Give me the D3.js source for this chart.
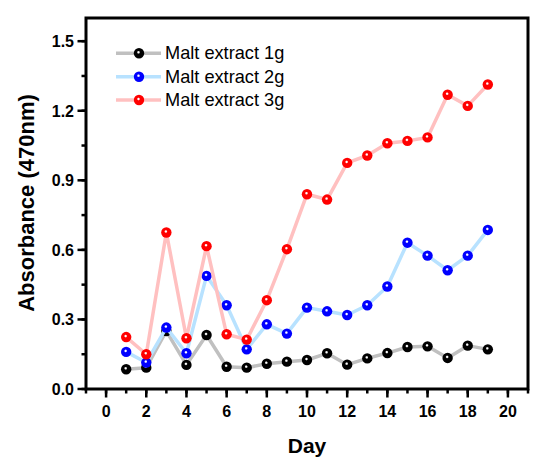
<!DOCTYPE html>
<html><head><meta charset="utf-8">
<script src="https://cdn.jsdelivr.net/npm/d3@7"></script>
<style>body{margin:0;background:#fff}svg{display:block}</style>
</head><body>
<svg id="c" width="559" height="471"></svg>
<script>
const days = [1,2,3,4,5,6,7,8,9,10,11,12,13,14,15,16,17,18,19];
const malt1g = [0.085,0.092,0.25,0.104,0.233,0.096,0.092,0.109,0.118,0.125,0.154,0.105,0.132,0.155,0.181,0.184,0.134,0.187,0.171];
const malt2g = [0.16,0.114,0.265,0.154,0.488,0.361,0.171,0.279,0.239,0.351,0.335,0.319,0.361,0.442,0.631,0.575,0.512,0.575,0.686];
const malt3g = [0.224,0.15,0.675,0.219,0.616,0.236,0.213,0.383,0.603,0.840,0.817,0.975,1.007,1.060,1.070,1.085,1.269,1.221,1.313];
const seriesNames = ["Malt extract 1g","Malt extract 2g","Malt extract 3g"];
const lineColors = ["#c0c0c0","#b8e2ff","#ffc0c0"];
const dotColors = ["#000000","#0000ff","#ff0000"];
const xTicks = [0,2,4,6,8,10,12,14,16,18,20];
const yTicks = [0.0,0.3,0.6,0.9,1.2,1.5];

const svg = d3.select("#c");
const x = d3.scaleLinear().domain([-1,21]).range([86,528]);
const y = d3.scaleLinear().domain([0,1.6]).range([389,18]);
const font = "'Liberation Sans', Arial, sans-serif";

// gradients for glossy markers
const defs = svg.append("defs");
dotColors.forEach((c,i)=>{
  const g = defs.append("radialGradient").attr("id","g"+i).attr("cx","0.45").attr("cy","0.42").attr("r","0.6").attr("fx","0.45").attr("fy","0.4");
  g.append("stop").attr("offset","0").attr("stop-color","#ffffff");
  g.append("stop").attr("offset","0.1").attr("stop-color","#ffffff");
  g.append("stop").attr("offset","0.28").attr("stop-color",c);
  g.append("stop").attr("offset","1").attr("stop-color",c);
});

// series
const all = [malt1g,malt2g,malt3g];
const line = d3.line().x((d,i)=>x(days[i])).y(d=>y(d));
all.forEach((vals,k)=>{
  const g = svg.append("g");
  g.append("path").attr("d",line(vals)).attr("fill","none").attr("stroke",lineColors[k]).attr("stroke-width",3.5).attr("stroke-linejoin","round");
  g.selectAll("circle").data(vals).join("circle")
    .attr("cx",(d,i)=>x(days[i])).attr("cy",d=>y(d)).attr("r",5.2)
    .attr("fill","url(#g"+k+")");
});

// frame
svg.append("rect").attr("x",86).attr("y",18).attr("width",442).attr("height",371)
  .attr("fill","none").attr("stroke","#000").attr("stroke-width",3);

// x axis
const xMinor = d3.range(-1,22,1);
const xa = svg.append("g").attr("transform","translate(0,389)");
xa.selectAll("line.mi").data(xMinor).join("line").attr("x1",d=>x(d)).attr("x2",d=>x(d)).attr("y1",0).attr("y2",4.5).attr("stroke","#000").attr("stroke-width",2.5);
xa.selectAll("line.ma").data(xTicks).join("line").attr("x1",d=>x(d)).attr("x2",d=>x(d)).attr("y1",0).attr("y2",8.5).attr("stroke","#000").attr("stroke-width",2.5);
xa.selectAll("text").data(xTicks).join("text").attr("x",d=>x(d)).attr("y",27.5).attr("text-anchor","middle")
  .attr("font-family",font).attr("font-weight","bold").attr("font-size",16).text(d=>d);

// y axis
const yMinor = d3.range(0,1.6,0.15);
const ya = svg.append("g").attr("transform","translate(86,0)");
ya.selectAll("line.mi").data(yMinor).join("line").attr("y1",d=>y(d)).attr("y2",d=>y(d)).attr("x1",0).attr("x2",-4.5).attr("stroke","#000").attr("stroke-width",2.5);
ya.selectAll("line.ma").data(yTicks).join("line").attr("y1",d=>y(d)).attr("y2",d=>y(d)).attr("x1",0).attr("x2",-8.5).attr("stroke","#000").attr("stroke-width",2.5);
ya.selectAll("text").data(yTicks).join("text").attr("x",-12).attr("y",d=>y(d)+5.8).attr("text-anchor","end")
  .attr("font-family",font).attr("font-weight","bold").attr("font-size",16).text(d=>d.toFixed(1));

// axis titles
svg.append("text").attr("x",307).attr("y",452.5).attr("text-anchor","middle").attr("font-family",font)
  .attr("font-weight","bold").attr("font-size",21).text("Day");
svg.append("text").attr("transform","translate(33.5,203) rotate(-90)").attr("text-anchor","middle").attr("font-family",font)
  .attr("font-weight","bold").attr("font-size",22).text("Absorbance (470nm)");

// legend
const rows = [53.3,76.7,100];
seriesNames.forEach((n,k)=>{
  const g = svg.append("g");
  g.append("line").attr("x1",116).attr("x2",161).attr("y1",rows[k]).attr("y2",rows[k]).attr("stroke",lineColors[k]).attr("stroke-width",3.5);
  g.append("circle").attr("cx",139).attr("cy",rows[k]).attr("r",5.2).attr("fill","url(#g"+k+")");
  g.append("text").attr("x",165).attr("y",rows[k]+6).attr("font-family",font).attr("font-size",18.2).text(n);
});
</script>
</body></html>
